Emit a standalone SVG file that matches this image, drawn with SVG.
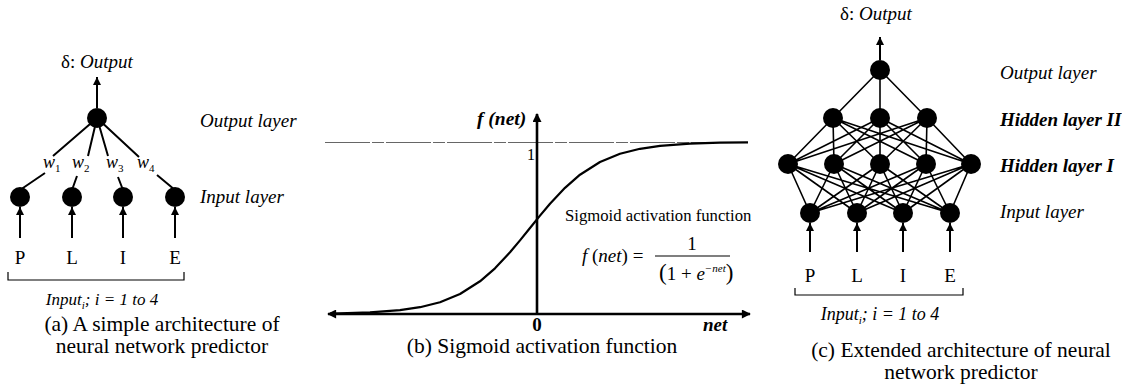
<svg xmlns="http://www.w3.org/2000/svg" width="1122" height="390" viewBox="0 0 1122 390">
<style>
text{font-family:"Liberation Serif","Times New Roman",serif;fill:#000}
.lbl{font-size:19px;font-style:italic}
.bi{font-size:19px;font-style:italic;font-weight:bold}
.cap{font-size:21.5px;text-anchor:middle}
.ltr{font-size:19px;text-anchor:middle}
.w{font-size:18px;font-style:italic}
.sub{font-size:11px;font-style:normal}
.node{fill:#000}
.edge{stroke:#000;stroke-width:2;fill:none}
.edgec{stroke:#000;stroke-width:1.6;fill:none}
.arr{stroke:#000;stroke-width:2;fill:none;marker-end:url(#ah)}
.axis{stroke:#000;stroke-width:2.6;fill:none}
.brk{stroke:#000;stroke-width:1.2;fill:none}
</style>
<defs>
<marker id="ah" viewBox="0 0 10 10" refX="10" refY="5" markerWidth="9" markerHeight="8" orient="auto" markerUnits="userSpaceOnUse"><path d="M0,0 L10,5 L0,10 z" fill="#000"/></marker>
<marker id="ahb" viewBox="0 0 10 10" refX="9" refY="5" markerWidth="11" markerHeight="9" orient="auto-start-reverse" markerUnits="userSpaceOnUse"><path d="M0,0 L10,5 L0,10 z" fill="#000"/></marker>
</defs>
<rect width="1122" height="390" fill="#fff"/>

<!-- Panel (a) connectors -->
<g id="connectors-a">
<path class="edge" d="M97,118 L53,156 M97,118 L88,156 M97,118 L108,156 M97,118 L139,157"/>
<path class="edge" d="M45,173 L20,190 M77,176 L72,190 M118,177 L123,190 M157,175 L175,190"/>
<path class="arr" d="M97,108 L97,77"/>
<path class="arr" d="M20,238 L20,207"/>
<path class="arr" d="M72,238 L72,207"/>
<path class="arr" d="M123,238 L123,207"/>
<path class="arr" d="M175,238 L175,207"/>
</g>
<g id="a-output-node"><circle class="node" cx="97" cy="118" r="10"/></g>
<g id="a-input-P"><circle class="node" cx="20" cy="197" r="10"/></g>
<g id="a-input-L"><circle class="node" cx="72" cy="197" r="10"/></g>
<g id="a-input-I"><circle class="node" cx="123" cy="197" r="10"/></g>
<g id="a-input-E"><circle class="node" cx="175" cy="197" r="10"/></g>
<g id="a-labels">
<text x="97" y="68" text-anchor="middle" font-size="19">δ: <tspan font-style="italic">Output</tspan></text>
<text class="lbl" x="200" y="127">Output layer</text>
<text class="lbl" x="200" y="203">Input layer</text>
<text class="w" x="43" y="168">w<tspan class="sub" dy="4">1</tspan></text>
<text class="w" x="72" y="168">w<tspan class="sub" dy="4">2</tspan></text>
<text class="w" x="106" y="168">w<tspan class="sub" dy="4">3</tspan></text>
<text class="w" x="137" y="168">w<tspan class="sub" dy="4">4</tspan></text>
<text class="ltr" x="20" y="264">P</text>
<text class="ltr" x="72" y="264">L</text>
<text class="ltr" x="123" y="264">I</text>
<text class="ltr" x="175" y="264">E</text>
<path class="brk" d="M8,272 V280 H184 V272"/>
<text x="102" y="305" text-anchor="middle" font-size="17" font-style="italic">Input<tspan font-size="11" dy="4">i</tspan><tspan dy="-4">; i = 1 to 4</tspan></text>
<text class="cap" x="162" y="331">(a) A simple architecture of</text>
<text class="cap" x="162" y="353">neural network predictor</text>
</g>

<!-- Panel (b) sigmoid -->
<g id="sigmoid-plot">
<line x1="325" y1="142.5" x2="748" y2="142.5" stroke="#666" stroke-width="1.2" stroke-dasharray="45 2 12 2"/>
<path class="axis" d="M537,314 L537,114" marker-end="url(#ahb)"/>
<path class="axis" d="M328,314 L750,314" marker-start="url(#ahb)" marker-end="url(#ahb)"/>
<polyline fill="none" stroke="#000" stroke-width="2.2" stroke-linejoin="round" points="330,313.6 340,313.3 370,312.4 400,310.1 420,307.2 440,302.2 460,294 480,281.3 495,268.3 510,252.3 520,240.4 530,228 540,215.6 550,203.7 565,187.8 580,174.7 600,162 620,153.8 640,148.8 660,145.9 690,143.7 720,142.7 748,142.3"/>
<text x="477" y="125" font-size="19.5" font-weight="bold" font-style="italic">f (net)</text>
<text x="527" y="160" font-size="16">1</text>
<text x="537" y="331" text-anchor="middle" font-size="19" font-weight="bold">0</text>
<text x="703" y="331" font-size="19" font-weight="bold" font-style="italic">net</text>
<text x="565" y="221" font-size="16.7">Sigmoid activation function</text>
<text x="582" y="262" font-size="19"><tspan font-style="italic">f</tspan> (<tspan font-style="italic">net</tspan>) =</text>
<line x1="655" y1="256" x2="730" y2="256" stroke="#000" stroke-width="1.1"/>
<text x="692" y="250" text-anchor="middle" font-size="19">1</text>
<text x="659" y="280" font-size="19"><tspan font-size="23">(</tspan>1 + <tspan font-style="italic">e</tspan><tspan font-size="11" font-style="italic" dy="-8">−net</tspan><tspan font-size="23" dy="8">)</tspan></text>
<text class="cap" x="542" y="353">(b) Sigmoid activation function</text>
</g>

<!-- Panel (c) connectors -->
<g id="connectors-c">
<path class="edgec" d="M880,70 L833,118 M880,70 L880,118 M880,70 L927,118"/>
<path class="edgec" d="M833,118 L788,164 M833,118 L834,164 M833,118 L880,164 M833,118 L926,164 M833,118 L971,164
M880,118 L788,164 M880,118 L834,164 M880,118 L880,164 M880,118 L926,164 M880,118 L971,164
M927,118 L788,164 M927,118 L834,164 M927,118 L880,164 M927,118 L926,164 M927,118 L971,164"/>
<path class="edgec" d="M788,164 L810,213 M788,164 L857,213 M788,164 L903,213 M788,164 L950,213
M834,164 L810,213 M834,164 L857,213 M834,164 L903,213 M834,164 L950,213
M880,164 L810,213 M880,164 L857,213 M880,164 L903,213 M880,164 L950,213
M926,164 L810,213 M926,164 L857,213 M926,164 L903,213 M926,164 L950,213
M971,164 L810,213 M971,164 L857,213 M971,164 L903,213 M971,164 L950,213"/>
<path class="arr" d="M880,60 L880,37"/>
<path class="arr" d="M810,252 L810,223"/>
<path class="arr" d="M857,252 L857,223"/>
<path class="arr" d="M903,252 L903,223"/>
<path class="arr" d="M950,252 L950,223"/>
</g>
<g id="c-output-node"><circle class="node" cx="880" cy="70" r="10"/></g>
<g id="c-h2-1"><circle class="node" cx="833" cy="118" r="10"/></g>
<g id="c-h2-2"><circle class="node" cx="880" cy="118" r="10"/></g>
<g id="c-h2-3"><circle class="node" cx="927" cy="118" r="10"/></g>
<g id="c-h1-1"><circle class="node" cx="788" cy="164" r="10"/></g>
<g id="c-h1-2"><circle class="node" cx="834" cy="164" r="10"/></g>
<g id="c-h1-3"><circle class="node" cx="880" cy="164" r="10"/></g>
<g id="c-h1-4"><circle class="node" cx="926" cy="164" r="10"/></g>
<g id="c-h1-5"><circle class="node" cx="971" cy="164" r="10"/></g>
<g id="c-input-P"><circle class="node" cx="810" cy="213" r="10"/></g>
<g id="c-input-L"><circle class="node" cx="857" cy="213" r="10"/></g>
<g id="c-input-I"><circle class="node" cx="903" cy="213" r="10"/></g>
<g id="c-input-E"><circle class="node" cx="950" cy="213" r="10"/></g>
<g id="c-labels">
<text x="876" y="20" text-anchor="middle" font-size="19">δ: <tspan font-style="italic">Output</tspan></text>
<text class="lbl" x="1000" y="79">Output layer</text>
<text class="bi" x="1000" y="126">Hidden layer II</text>
<text class="bi" x="1000" y="172">Hidden layer I</text>
<text class="lbl" x="1000" y="218">Input layer</text>
<text class="ltr" x="810" y="282">P</text>
<text class="ltr" x="857" y="282">L</text>
<text class="ltr" x="903" y="282">I</text>
<text class="ltr" x="950" y="282">E</text>
<path class="brk" d="M795,288 V295 H963 V288"/>
<text x="880" y="320" text-anchor="middle" font-size="18" font-style="italic">Input<tspan font-size="11" dy="4">i</tspan><tspan dy="-4">; i = 1 to 4</tspan></text>
<text class="cap" x="961" y="357">(c) Extended architecture of neural</text>
<text class="cap" x="961" y="379">network predictor</text>
</g>
</svg>
